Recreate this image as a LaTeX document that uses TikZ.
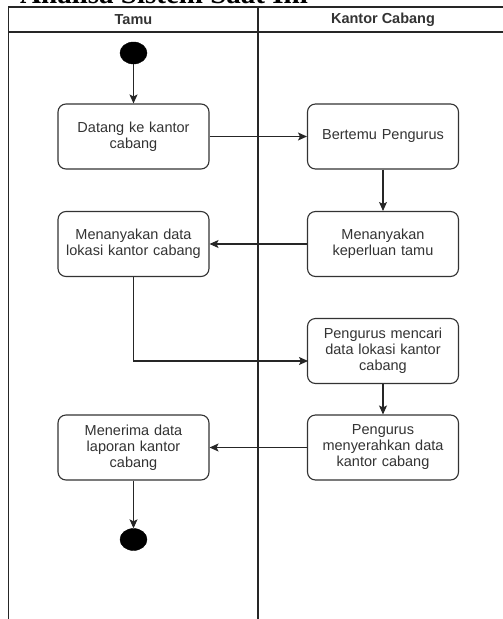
\documentclass[tikz,border=0pt]{standalone}
\usepackage{fontspec}
\setmainfont{Liberation Sans}
\newfontfamily\titlefont{Liberation Serif}
\usetikzlibrary{arrows.meta,shapes.geometric}
\definecolor{ink}{HTML}{333333}
\tikzset{
  actbox/.style={draw=ink, line width=1.1pt, rounded corners=8pt, fill=white,
    minimum width=151pt, minimum height=65pt, text width=145pt, align=center,
    text=ink, font=\fontsize{14.5}{16}\selectfont, inner sep=2pt},
  dot/.style={ellipse, fill=black, draw=black, minimum width=27pt, minimum height=22pt, inner sep=0pt},
  lane/.style={draw=black!85, line width=1.1pt},
  flow/.style={draw=black!85, line width=1.1pt, -{Stealth[length=9pt,width=8pt,inset=2pt]}},
  lanehead/.style={font=\fontsize{14.5}{16}\selectfont\bfseries, text=ink}
}
\begin{document}
\begin{tikzpicture}[x=1pt,y=-1pt]
\useasboundingbox (0,0) rectangle (503,619);
\clip (0,0) rectangle (503,619);

% heading above the swimlanes (only its lower edge shows)
\node[anchor=base west, inner sep=0pt, font=\titlefont\fontsize{29}{30}\selectfont\bfseries] (title) at (20,3.5) {Analisa Sistem Saat Ini};

% swimlane frame
\draw[lane] (503,7) -- (8.7,7) -- (8.7,619);
\draw[lane] (8.7,32) -- (503,32);
\draw[lane] (258,7) -- (258,619);
\node[lanehead] (laneA) at (133.5,20) {Tamu};
\node[lanehead] (laneB) at (383,20) {Kantor Cabang};

% activities
\node[dot] (start) at (133.5,53) {};
\node[actbox] (a1) at (133.5,136.5) {Datang ke kantor\\cabang};
\node[actbox] (b1) at (383,136.5) {Bertemu Pengurus};
\node[actbox] (b2) at (383,244) {Menanyakan\\keperluan tamu};
\node[actbox] (a2) at (133.5,244) {Menanyakan data\\lokasi kantor cabang};
\node[actbox] (b3) at (383,351) {Pengurus mencari\\data lokasi kantor\\cabang};
\node[actbox] (b4) at (383,447.5) {Pengurus\\menyerahkan data\\kantor cabang};
\node[actbox] (a3) at (133.5,447.5) {Menerima data\\laporan kantor\\cabang};
\node[dot] (stop) at (133.5,539.5) {};

\coordinate (bend) at (133.5,361);
\coordinate (entry) at (308,361);

% transitions
\draw[flow] (start) -- (a1);
\draw[flow] (a1) -- (b1);
\draw[flow] (b1) -- (b2);
\draw[flow] (b2) -- (a2);
\draw[flow] (a2.south) -- (bend) -- (entry);
\draw[flow] (b3) -- (b4);
\draw[flow] (b4) -- (a3);
\draw[flow] (a3) -- (stop);
\end{tikzpicture}
\end{document}
